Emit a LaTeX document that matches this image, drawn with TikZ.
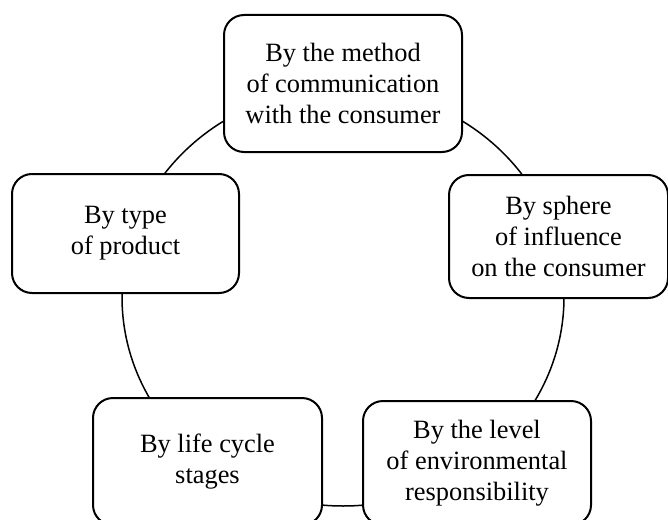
\documentclass[tikz,border=0pt]{standalone}
\usepackage{fontspec}
\setmainfont{Liberation Serif}
\begin{document}
\begin{tikzpicture}[x=0.5pt,y=-0.5pt,
	    box/.style={draw,line width=1pt,rounded corners=10pt,fill=white,align=center,
	      inner sep=0pt,font=\fontsize{13.2}{15.5}\selectfont}]
	    \useasboundingbox (0,0) rectangle (668,519);
	    % circle behind the boxes
	    \coordinate (c) at (343,297);
	    \draw[line width=0.75pt] (c) ellipse [x radius=110.5pt, y radius=104.5pt];
	    % boxes on the circle
	    \node[box,minimum width=119pt,minimum height=68.5pt] (method) at (343,83.5) {By the method\\of communication\\with the consumer};
	    \node[box,minimum width=109.5pt,minimum height=61.5pt] (sphere) at (558.5,236.5) {By sphere\\of influence\\on the consumer};
	    \node[box,minimum width=114pt,minimum height=62pt] (level) at (477,463) {By the level\\of environmental\\responsibility};
	    \node[box,minimum width=114.5pt,minimum height=63.5pt] (life) at (207.5,461.5) {By life cycle\\stages};
	    \node[box,minimum width=113.5pt,minimum height=59.5pt] (type) at (125.5,233.5) {By type\\of product};
\end{tikzpicture}
\end{document}
